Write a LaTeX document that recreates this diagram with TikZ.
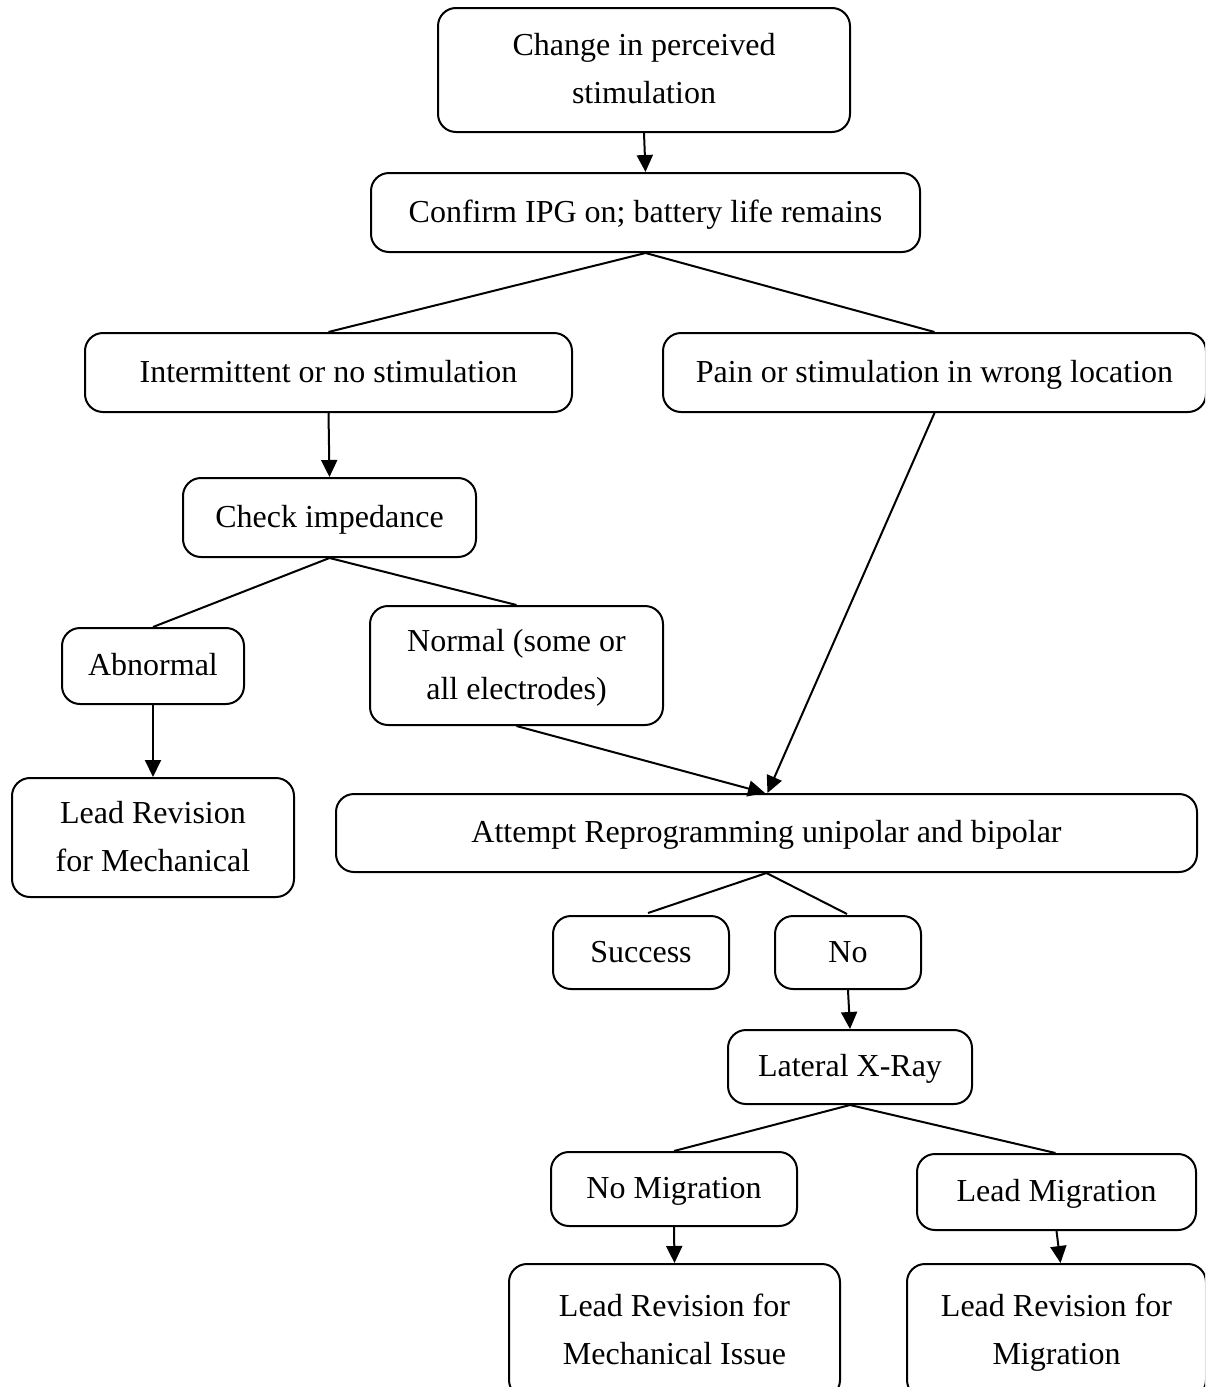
\documentclass[tikz,border=0pt]{standalone}
\usepackage{fontspec}
\setmainfont{Liberation Serif}
\usetikzlibrary{arrows.meta,calc}
\begin{document}
\begin{tikzpicture}[x=1pt,y=-1pt,
  box/.style={draw,line width=2pt,rounded corners=18pt,inner sep=0pt,align=center,
    font=\fontsize{32}{48}\selectfont},
  conn/.style={line width=2pt},
  arr/.style={line width=2pt,-{Triangle[length=17pt,width=16pt]}}]
\path[use as bounding box] (0,0) rectangle (1205,1387);
\clip (0,0) rectangle (1205,1387);
\fill[white] (0,0) rectangle (1205,1387);
\node[box,minimum width=412pt,minimum height=124pt] (top) at (644,70) {\strut Change in perceived\\\strut stimulation};
\node[box,minimum width=549pt,minimum height=79pt] (confirm) at (645.5,212.5) {\strut Confirm IPG on; battery life remains};
\node[box,minimum width=487pt,minimum height=79pt] (inter) at (328.5,372.5) {\strut Intermittent or no stimulation};
\node[box,minimum width=543pt,minimum height=79pt] (pain) at (934.5,372.5) {\strut Pain or stimulation in wrong location};
\node[box,minimum width=293pt,minimum height=79pt] (check) at (329.5,517.5) {\strut Check impedance};
\node[box,minimum width=182pt,minimum height=76pt] (abn) at (153,666) {\strut Abnormal};
\node[box,minimum width=293pt,minimum height=119pt] (norm) at (516.5,665.5) {\strut Normal (some or\\\strut all electrodes)};
\node[box,minimum width=282pt,minimum height=119pt] (lrm) at (153,837.5) {\strut Lead Revision\\\strut for Mechanical};
\node[box,minimum width=861pt,minimum height=78pt] (att) at (766.5,833) {\strut Attempt Reprogramming unipolar and bipolar};
\node[box,minimum width=176pt,minimum height=73pt] (succ) at (641,952.5) {\strut Success};
\node[box,minimum width=146pt,minimum height=73pt] (no) at (848,952.5) {\strut No};
\node[box,minimum width=244pt,minimum height=74pt] (lat) at (850,1067) {\strut Lateral X-Ray};
\node[box,minimum width=246pt,minimum height=74pt] (nomig) at (674,1189) {\strut No Migration};
\node[box,minimum width=279pt,minimum height=76pt] (leadmig) at (1056.5,1192) {\strut Lead Migration};
\node[box,minimum width=331pt,minimum height=134pt] (lrmech) at (674.5,1331) {\strut Lead Revision for\\\strut Mechanical Issue};
\node[box,minimum width=299pt,minimum height=134pt] (lrmig) at (1056.5,1331) {\strut Lead Revision for\\\strut Migration};
\draw[arr] (top.south) -- (confirm.north);
\draw[conn] (confirm.south) -- (inter.north);
\draw[conn] (confirm.south) -- (pain.north);
\draw[arr] (inter.south) -- (check.north);
\draw[conn] (check.south) -- (abn.north);
\draw[conn] (check.south) -- (norm.north);
\draw[arr] (abn.south) -- (lrm.north);
\draw[arr] (norm.south) -- ($(att.north)+(-1.5,0)$);
\draw[arr] (pain.south) -- ($(att.north)+(1,0)$);
\draw[conn] (att.south) -- ($(succ.north)+(7,-2)$);
\draw[conn] (att.south) -- ($(no.north)+(-1,-1)$);
\draw[arr] (no.south) -- (lat.north);
\draw[conn] (lat.south) -- (nomig.north);
\draw[conn] (lat.south) -- ($(leadmig.north)+(-1,0)$);
\draw[arr] (nomig.south) -- (lrmech.north);
\draw[arr] (leadmig.south) -- ($(lrmig.north)+(4,0)$);
\end{tikzpicture}
\end{document}
